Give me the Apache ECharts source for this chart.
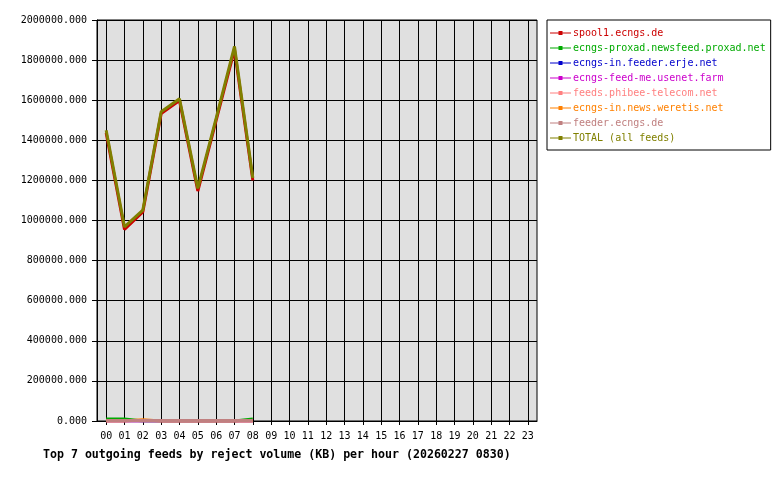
<!DOCTYPE html>
<html>
<head>
<meta charset="utf-8">
<script src="https://cdn.jsdelivr.net/npm/echarts@6/dist/echarts.min.js"></script>
<style>html,body{margin:0;padding:0;background:#fff}#c{width:780px;height:480px}</style>
</head>
<body>
<div id="c"></div>
<script>
var hours = ['00','01','02','03','04','05','06','07','08','09','10','11','12','13','14','15','16','17','18','19','20','21','22','23'];
var feedNames = ['spool1.ecngs.de','ecngs-proxad.newsfeed.proxad.net','ecngs-in.feeder.erje.net','ecngs-feed-me.usenet.farm','feeds.phibee-telecom.net','ecngs-in.news.weretis.net','feeder.ecngs.de','TOTAL (all feeds)'];
var feedColors = ['#cc0000','#00aa00','#0000cc','#cc00cc','#ff8080','#ff8000','#c08080','#808000'];
var spool1 = [1437000, 955000, 1043000, 1533000, 1598000, 1147000, 1500000, 1852000, 1200000];
var proxad = [10000, 10000, 0, 0, 0, 0, 0, 0, 10000];
var erje = [0, 0, 0, 0, 0, 0, 0, 0, 0];
var usenetFarm = [0, 0, 0, 0, 0, 0, 0, 0, 0];
var phibee = [0, 0, 0, 0, 0, 0, 0, 0, 0];
var weretis = [0, 0, 6000, 0, 0, 0, 0, 0, 0];
var feederEcngs = [2500, 2500, 2500, 2500, 2500, 2500, 2500, 2500, 2500];
var total = [1450000, 968000, 1052000, 1542000, 1607000, 1160000, 1510000, 1868000, 1212000];
var yTicks = {min: 0, max: 2000000, interval: 200000};

var seriesData = [spool1, proxad, erje, usenetFarm, phibee, weretis, feederEcngs, total];
var mono = 'DejaVu Sans Mono';
var legendIcon = 'path://M0,1.5h8.5v-1.5h4v1.5h8.5v1h-8.5v1.5h-4v-1.5h-8.5z';

var chart = echarts.init(document.getElementById('c'), null, {renderer: 'canvas'});
var series = seriesData.map(function (d, i) {
  return {
    name: feedNames[i],
    type: 'line',
    data: d,
    color: feedColors[i],
    symbol: 'none',
    showSymbol: false,
    animation: false,
    lineStyle: {width: 3, color: feedColors[i]},
    itemStyle: {color: feedColors[i]}
  };
});

chart.setOption({
  animation: false,
  backgroundColor: '#ffffff',
  grid: {left: 97, right: 243, top: 20, bottom: 59, show: true, backgroundColor: '#e0e0e0', borderColor: '#000', borderWidth: 1},
  title: {
    text: 'Top 7 outgoing feeds by reject volume (KB) per hour (20260227 0830)',
    left: 38, top: 444,
    textStyle: {fontFamily: mono, fontWeight: 'bold', fontSize: 11.6, color: '#000'}
  },
  legend: {
    orient: 'vertical',
    left: 547, top: 20,
    padding: [8, 5, 7, 3],
    itemWidth: 21, itemHeight: 4, itemGap: 5,
    backgroundColor: '#fff', borderColor: '#000', borderWidth: 1, borderRadius: 0,
    selectedMode: false,
    icon: legendIcon,
    data: feedNames.map(function (n, i) {
      return {name: n, icon: legendIcon, itemStyle: {color: feedColors[i]}, textStyle: {color: feedColors[i]}};
    }),
    textStyle: {fontFamily: mono, fontSize: 10, lineHeight: 10, padding: [0, 0, 0, -3]}
  },
  xAxis: {
    type: 'category',
    data: hours,
    boundaryGap: true,
    axisLine: {show: true, lineStyle: {color: '#000', width: 1}},
    axisTick: {show: true, alignWithLabel: true, length: 4, lineStyle: {color: '#000'}},
    splitLine: {show: true, alignWithLabel: true, lineStyle: {color: '#000', width: 1}},
    axisLabel: {fontFamily: mono, fontSize: 10, color: '#000', margin: 10, interval: 0}
  },
  yAxis: {
    type: 'value',
    min: yTicks.min, max: yTicks.max, interval: yTicks.interval,
    axisLine: {show: true, lineStyle: {color: '#000', width: 1}},
    axisTick: {show: true, length: 5, lineStyle: {color: '#000'}},
    splitLine: {show: true, lineStyle: {color: '#000', width: 1}},
    axisLabel: {fontFamily: mono, fontSize: 10, color: '#000', margin: 10, formatter: function (v) { return v.toFixed(3); }}
  },
  series: series
});
</script>
</body>
</html>
